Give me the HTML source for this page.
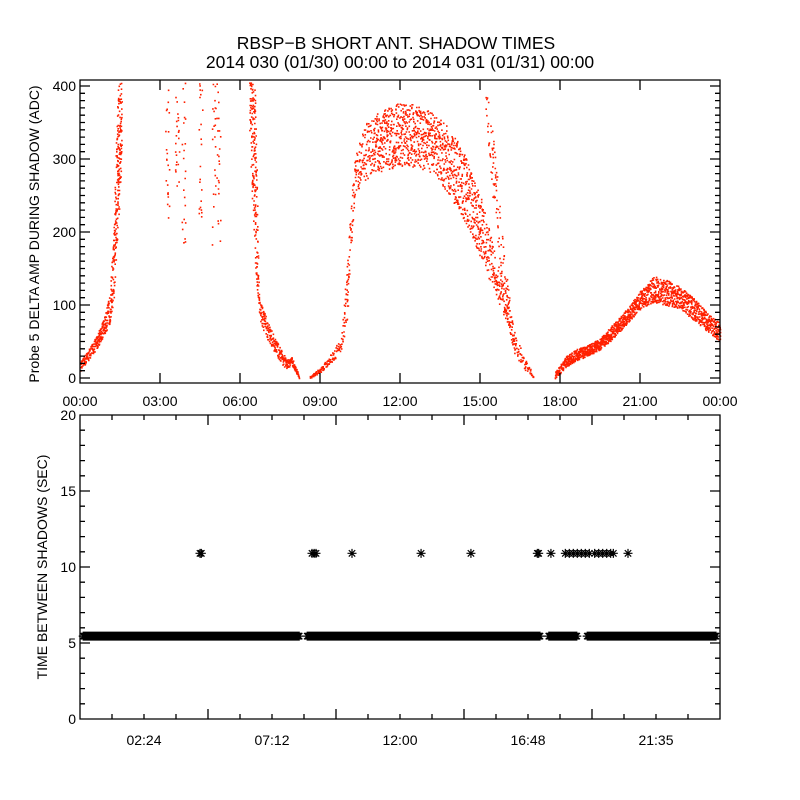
<!DOCTYPE html>
<html><head><meta charset="utf-8"><style>
html,body{margin:0;padding:0;background:#fff}
svg{display:block}
text{font-family:"Liberation Sans",sans-serif;fill:#000}
</style></head><body>
<svg id="chart" width="800" height="800" viewBox="0 0 800 800" xmlns="http://www.w3.org/2000/svg">
<text x="396" y="49" font-size="17.5" text-anchor="middle">RBSP−B SHORT ANT. SHADOW TIMES</text>
<text x="400" y="68" font-size="17.5" text-anchor="middle">2014 030 (01/30) 00:00 to 2014 031 (01/31) 00:00</text>
<text transform="translate(39,234) rotate(-90)" font-size="14" text-anchor="middle">Probe 5 DELTA AMP DURING SHADOW (ADC)</text>
<text transform="translate(47,567) rotate(-90)" font-size="14" text-anchor="middle">TIME BETWEEN SHADOWS (SEC)</text>
<g id="topPanel"></g>
<g id="botPanel"></g>
</svg>
<script>
// ---- top panel data (hours, ADC) ----
const s1T=[0,0.3,0.6,0.9,1.1,1.25,1.4,1.55];
const s1Lo=[10,25,40,60,75,110,200,300];
const s1Hi=[22,40,58,85,115,200,400,410];
const s2T=[6.35,6.55,6.7,6.8,7.0,7.3,7.6,7.75,7.9,8.05,8.2];
const s2Lo=[330,150,90,70,55,35,18,12,20,10,0];
const s2Hi=[410,400,115,100,80,55,35,25,30,18,5];
const s3T=[8.6,9.0,9.5,9.8,10.0,10.15,10.3,10.6,11.0,11.5,12.0,12.5,13.0,13.5,14.0,14.5,15.0,15.5,16.0,16.3,16.7,17.0];
const s3Lo=[0,8,25,40,70,180,250,270,280,285,290,290,285,270,240,210,165,120,75,30,10,0];
const s3Hi=[3,15,40,60,160,240,300,345,360,370,378,375,368,355,335,300,250,180,110,60,25,5];
const s4T=[17.8,18.2,18.6,19,19.5,20,20.5,21,21.5,22,22.5,23,23.5,24];
const s4Lo=[0,15,25,30,40,55,75,95,105,100,95,80,65,50];
const s4Hi=[8,30,40,45,55,75,95,120,140,135,125,110,90,75];
const tailT=[15.2,15.5,15.8,16.1];
const tailLo=[370,230,140,90];
const tailHi=[410,330,200,130];
const streakT=[3.26,3.63,3.87,4.5,5.0,5.18];
const streakLo=[220,250,180,220,175,175];
// ---- bottom panel data (hours, seconds) ----
const gapStart=[8.25,17.25,18.64];
const gapEnd=[8.5,17.55,19.0];
const bandValue=5.45;
const longTimes=[4.5,4.55,8.7,8.78,8.85,10.2,12.79,14.66,17.15,17.2,17.66,18.2,18.35,18.5,18.65,18.8,18.95,19.1,19.3,19.45,19.6,19.75,19.9,20.0,20.55];
const longValue=10.9;
const topXTicks=["00:00","03:00","06:00","09:00","12:00","15:00","18:00","21:00","00:00"];
const topYTicks=[0,100,200,300,400];
const botXTicks=["02:24","07:12","12:00","16:48","21:35"];
const botYTicks=[0,5,10,15,20];

const NS="http://www.w3.org/2000/svg";
const L=80,R=720;
const xS=t=>L+t*(R-L)/24;
const yT=v=>378-v*0.73;
const yB=v=>719-v*15.2;
function mk(tag,attrs,parent){const e=document.createElementNS(NS,tag);for(const k in attrs)e.setAttribute(k,attrs[k]);parent.appendChild(e);return e;}
const topG=document.getElementById('topPanel'),botG=document.getElementById('botPanel');
let seed=12345;
function rnd(){seed=(seed*16807)%2147483647;return seed/2147483647;}

// top scatter
let d="";
function seg(T,Lo,Hi,dens){
  for(let i=0;i<T.length-1;i++){
    for(let t=T[i];t<T[i+1];t+=0.012){
      const f=(t-T[i])/(T[i+1]-T[i]);
      const lo=Lo[i]+f*(Lo[i+1]-Lo[i]),hi=Hi[i]+f*(Hi[i+1]-Hi[i]);
      const n=Math.max(1,Math.round(dens*(1.5+(hi-lo)/30)));
      for(let k=0;k<n;k++){
        const v=Math.min(405,lo+rnd()*(hi-lo));
        const x=xS(t+(rnd()-0.5)*0.02),y=yT(v);
        d+="M"+x.toFixed(1)+" "+y.toFixed(1)+"h1.6v1.6h-1.6z";
      }
    }
  }
}
seg(s1T,s1Lo,s1Hi,1.2);
seg(s2T,s2Lo,s2Hi,1.0);
seg(s3T,s3Lo,s3Hi,0.6);
seg(s4T,s4Lo,s4Hi,1.3);
seg(tailT,tailLo,tailHi,0.35);
for(let i=0;i<streakT.length;i++){
  for(let k=0;k<22;k++){
    const v=streakLo[i]+rnd()*(405-streakLo[i]);
    d+="M"+(xS(streakT[i])+(rnd()-0.5)*4).toFixed(1)+" "+yT(v).toFixed(1)+"h1.6v1.6h-1.6z";
  }
}
const sc=mk('path',{d:d,fill:'#ff2000'},topG);



// top frame and ticks
let ax="M80 80H720V383H80Z";
for(let i=0;i<=8;i++){const x=xS(i*3);ax+="M"+x+" 383v-10M"+x+" 80v10";}
for(let v=0;v<=400;v+=10){const y=yT(v);const len=v%100===0?10:5;ax+="M80 "+y+"h"+len+"M720 "+y+"h-"+len;}
const fr=mk('path',{d:ax,stroke:'#000','stroke-width':1.3,fill:'none'},topG);


topXTicks.forEach((s,i)=>{const t=mk('text',{x:xS(i*3),y:406,'font-size':14,'text-anchor':'middle'},topG);t.textContent=s;

});
topYTicks.forEach(v=>{const t=mk('text',{x:76,y:yT(v)+5,'font-size':14,'text-anchor':'end'},topG);t.textContent=v;

});

// bottom asterisks
let a="";
function star(x,y){const r=4.5,q=3.2;a+="M"+(x-r)+" "+y+"h"+(2*r)+"M"+x+" "+(y-r)+"v"+(2*r)+"M"+(x-q)+" "+(y-q)+"l"+(2*q)+" "+(2*q)+"M"+(x-q)+" "+(y+q)+"l"+(2*q)+" "+(-2*q);}
for(let t=0.12;t<=23.88;t+=0.03){
  let inGap=false;for(let g=0;g<gapStart.length;g++)if(t>=gapStart[g]&&t<=gapEnd[g])inGap=true;
  if(!inGap)star(xS(t),yB(bandValue));
}
longTimes.forEach(t=>star(xS(t),yB(longValue)));
const st=mk('path',{d:a,stroke:'#000','stroke-width':1.2,fill:'none'},botG);



let bx="M80 415H720V719H80Z";
for(let i=0;i<=20;i++){const x=xS(i*1.2);const len=i%4===0?10:5;bx+="M"+x+" 719v-"+len+"M"+x+" 415v"+len;}
for(let v=0;v<=20;v++){const y=yB(v);const len=v%5===0?10:5;bx+="M80 "+y+"h"+len+"M720 "+y+"h-"+len;}
const bf=mk('path',{d:bx,stroke:'#000','stroke-width':1.3,fill:'none'},botG);


botXTicks.forEach((s,i)=>{const t=mk('text',{x:xS((i+0.5)*4.8),y:745,'font-size':14,'text-anchor':'middle'},botG);t.textContent=s;

});
botYTicks.forEach(v=>{const t=mk('text',{x:76,y:yB(v)+5,'font-size':14,'text-anchor':'end'},botG);t.textContent=v;

});
</script>
</body></html>
